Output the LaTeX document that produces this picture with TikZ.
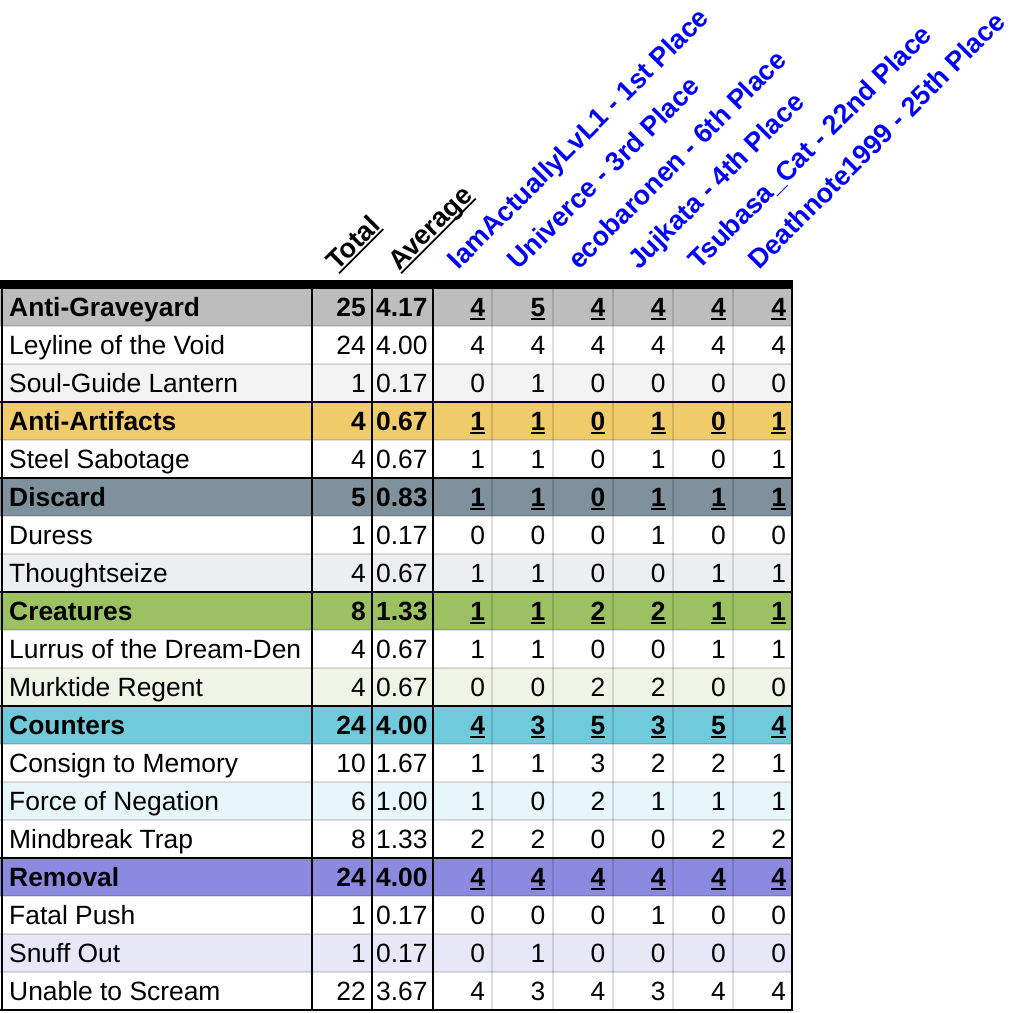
\documentclass[tikz,border=0pt]{standalone}
\usepackage{fontspec}
\setmainfont{Liberation Sans}
\definecolor{agH}{HTML}{BDBDBD}
\definecolor{agA}{HTML}{F3F3F3}
\definecolor{aaH}{HTML}{F0CB69}
\definecolor{diH}{HTML}{7F919D}
\definecolor{diA}{HTML}{EBEFF1}
\definecolor{crH}{HTML}{9BC163}
\definecolor{crA}{HTML}{EFF5E6}
\definecolor{coH}{HTML}{6FCBDC}
\definecolor{coA}{HTML}{E7F6F9}
\definecolor{reH}{HTML}{8B89E0}
\definecolor{reA}{HTML}{E8E7F8}
\definecolor{hdrblue}{HTML}{0000FF}
\newcommand\myul[1]{\setbox0\hbox{#1}\rlap{\rule[-3.7pt]{\wd0}{1.9pt}}\box0}
\begin{document}
\begin{tikzpicture}[x=1pt,y=-1pt,
  every node/.style={inner sep=0pt, font=\fontsize{26.4}{30}\selectfont},
  cell/.style={anchor=base west},
  num/.style={anchor=base east},
  avgt/.style={anchor=base west},
  boldtxt/.style={font=\fontsize{26.4}{30}\selectfont\bfseries},
  hdr/.style={anchor=base west, rotate=45, font=\fontsize{27}{30}\selectfont\bfseries},
  gridline/.style={draw=black, draw opacity=0.13, line width=2pt},
  blackrule/.style={draw=black, line width=2pt}]
\useasboundingbox (0,0) rectangle (1032,1012);
% row backgrounds
\foreach \r/\c in {0/agH,1/white,2/agA,3/aaH,4/white,5/diH,6/white,7/diA,8/crH,9/white,10/crA,11/coH,12/white,13/coA,14/white,15/reH,16/white,17/reA,18/white}
  \fill[\c] (0,{288+38*\r}) rectangle (793,{326+38*\r});
% light grid
\foreach \k in {1,...,18}
  \draw[gridline] (0,{288+38*\k}) -- (793,{288+38*\k});
\foreach \x in {492,553,613,673,733}
  \draw[gridline] (\x,288) -- (\x,1010);
% black rules
\fill[black] (0,280) rectangle (793,288.5);
\foreach \x in {1.5,311.5,371.5,432.5,792}
  \draw[blackrule] (\x,280) -- (\x,1011);
\foreach \r in {3,5,8,11,15}
  \draw[blackrule] (0,{288+38*\r}) -- (793,{288+38*\r});
\draw[blackrule] (0,1010) -- (793,1010);
% headers
\node[hdr] (hTotal) at (337,271.5) {\myul{Total}};
\node[hdr] (hAvg) at (399,271.5) {\myul{Average}};
\foreach \t [count=\j] in {IamActuallyLvL1 - 1st Place, Univerce - 3rd Place, ecobaronen - 6th Place, Jujkata - 4th Place, Tsubasa\_Cat - 22nd Place, Deathnote1999 - 25th Place}
  \node[hdr, text=hdrblue] (hP\j) at ({398.5+60.15*\j},271) {\t};
% category rows
\foreach \r/\nm/\tot/\av/\vals in {0/Anti-Graveyard/25/4.17/{4,5,4,4,4,4},3/Anti-Artifacts/4/0.67/{1,1,0,1,0,1},5/Discard/5/0.83/{1,1,0,1,1,1},8/Creatures/8/1.33/{1,1,2,2,1,1},11/Counters/24/4.00/{4,3,5,3,5,4},15/Removal/24/4.00/{4,4,4,4,4,4}}{
  \node[cell, boldtxt] (n\r) at (9,{316.3+38*\r}) {\nm};
  \node[num, boldtxt] (t\r) at (366,{316.3+38*\r}) {\tot};
  \node[avgt, boldtxt] (a\r) at (376,{316.3+38*\r}) {\av};
  \foreach \v [count=\j] in \vals
    \node[num, boldtxt] (v\r-\j) at ({425+60.2*\j},{316.3+38*\r}) {\myul{\v}};
}
% item rows
\foreach \r/\nm/\tot/\av/\vals in {1/Leyline of the Void/24/4.00/{4,4,4,4,4,4},2/Soul-Guide Lantern/1/0.17/{0,1,0,0,0,0},4/Steel Sabotage/4/0.67/{1,1,0,1,0,1},6/Duress/1/0.17/{0,0,0,1,0,0},7/Thoughtseize/4/0.67/{1,1,0,0,1,1},9/Lurrus of the Dream-Den/4/0.67/{1,1,0,0,1,1},10/Murktide Regent/4/0.67/{0,0,2,2,0,0},12/Consign to Memory/10/1.67/{1,1,3,2,2,1},13/Force of Negation/6/1.00/{1,0,2,1,1,1},14/Mindbreak Trap/8/1.33/{2,2,0,0,2,2},16/Fatal Push/1/0.17/{0,0,0,1,0,0},17/Snuff Out/1/0.17/{0,1,0,0,0,0},18/Unable to Scream/22/3.67/{4,3,4,3,4,4}}{
  \node[cell] (n\r) at (9,{316.3+38*\r}) {\nm};
  \node[num] (t\r) at (366,{316.3+38*\r}) {\tot};
  \node[avgt] (a\r) at (376,{316.3+38*\r}) {\av};
  \foreach \v [count=\j] in \vals
    \node[num] (v\r-\j) at ({425+60.2*\j},{316.3+38*\r}) {\v};
}
\end{tikzpicture}
\end{document}
